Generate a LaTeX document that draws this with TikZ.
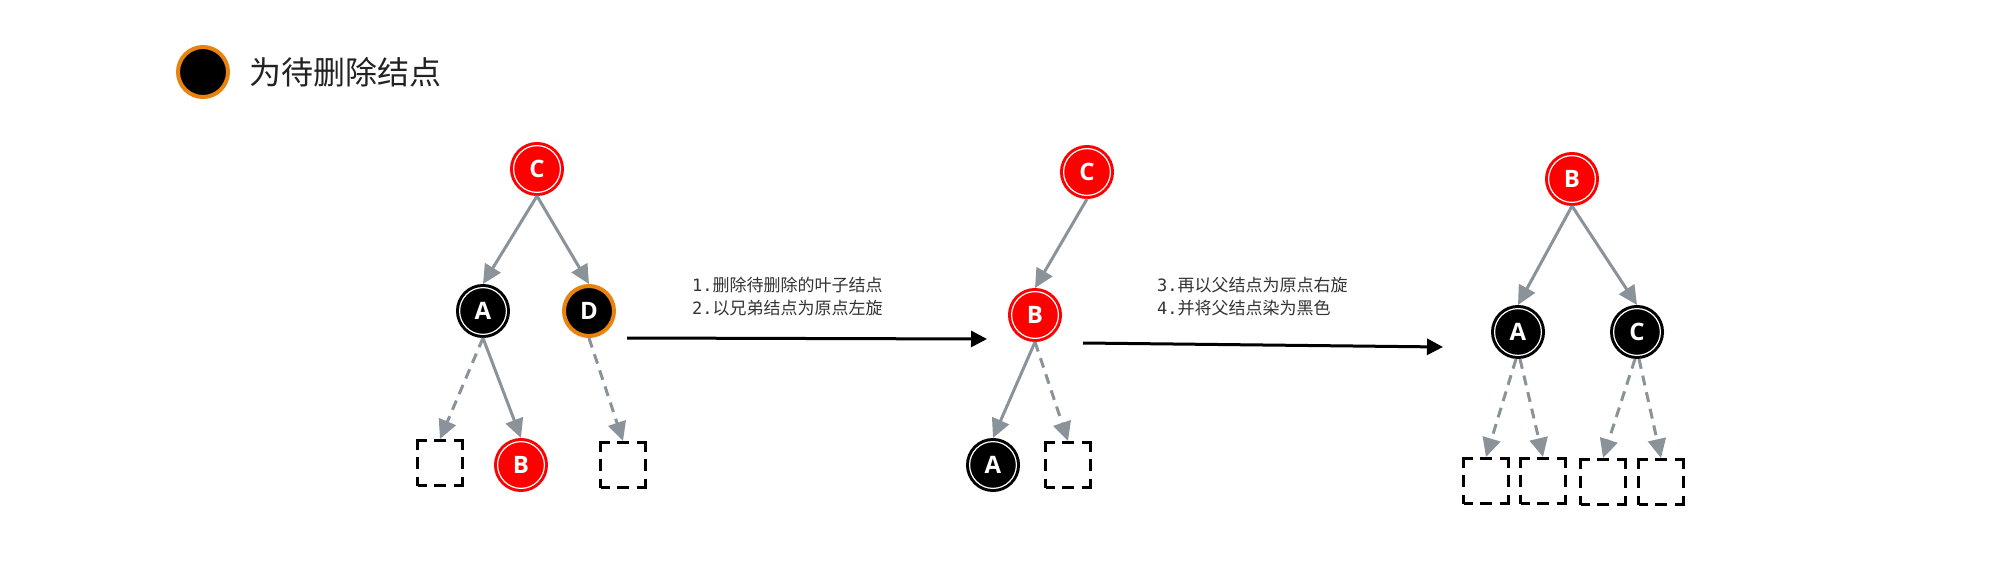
\documentclass[tikz,border=0pt]{standalone}
\usepackage{fontspec}
\setmainfont{Noto Sans}
\newfontfamily\cjk{Noto Sans CJK SC}
\newfontfamily\monof{DejaVu Sans Mono}
\newfontfamily\lettf{Open Sans}
\usetikzlibrary{arrows.meta}
\definecolor{rbred}{HTML}{FF0000}
\definecolor{delorange}{HTML}{E8830F}
\definecolor{edgegray}{HTML}{8A929A}
\definecolor{txtgray}{HTML}{333333}
\definecolor{legtext}{HTML}{222222}
\begin{document}
\begin{tikzpicture}[x=1pt,y=-1pt,
 rbnode/.style={circle, minimum size=46.8pt, inner sep=0pt, line width=3pt, double distance=1.2pt, outer sep=3.6pt, text=white, font=\lettf\bfseries\fontsize{24}{24}\selectfont},
 rednode/.style={rbnode, fill=rbred, draw=rbred, double=white},
 blacknode/.style={rbnode, fill=black, draw=black, double=white},
 delnode/.style={circle, minimum size=50pt, inner sep=0pt, line width=4pt, draw=delorange, fill=black, outer sep=2pt, text=white, font=\lettf\bfseries\fontsize{24}{24}\selectfont},
 nilbox/.style={draw=black, line width=3pt, minimum size=45pt, inner sep=0pt, dash pattern=on 18pt off 7.5pt on 12pt off 7.5pt, dash phase=9pt, outer sep=1.5pt},
 treeedge/.style={draw=edgegray, line width=3pt, -{Triangle[length=19pt,width=18pt]}},
 niledge/.style={treeedge, dash pattern=on 10pt off 7pt},
 steparrow/.style={draw=black, line width=3pt, -{Triangle[length=16pt,width=16pt]}},
 steptext/.style={anchor=west, align=left, text=txtgray, inner sep=0pt, font=\cjk\fontsize{17}{23}\selectfont}
]
\useasboundingbox (0,0) rectangle (1989,575);

% legend
\node[delnode] (leg) at (203,72) {};
\node[anchor=west, text=legtext, font=\cjk\fontsize{32}{32}\selectfont] (legt) at (246,72) {为待删除结点};

% tree 1
\node[rednode] (t1c) at (537,169) {C};
\node[blacknode] (t1a) at (483,311) {A};
\node[delnode] (t1d) at (589,311) {D};
\node[nilbox] (t1n1) at (440,463) {};
\node[rednode] (t1b) at (521,465) {B};
\node[nilbox] (t1n2) at (623,465) {};
\draw[treeedge] (t1c.south) -- (t1a.north);
\draw[treeedge] (t1c.south) -- (t1d.north);
\draw[niledge] (t1a.south) -- (t1n1.north);
\draw[treeedge] (t1a.south) -- (t1b.north);
\draw[niledge] (t1d.south) -- (t1n2.north);

% step arrow 1
\coordinate (s1a) at (627,338);
\coordinate (s1b) at (987,339);
\draw[steparrow] (s1a) -- (s1b);
\node[steptext] (st1) at (692,297) {{\monof 1.}删除待删除的叶子结点\\{\monof 2.}以兄弟结点为原点左旋};

% tree 2
\node[rednode] (t2c) at (1087,172) {C};
\node[rednode] (t2b) at (1035,315) {B};
\node[blacknode] (t2a) at (993,465) {A};
\node[nilbox] (t2n1) at (1068,465) {};
\draw[treeedge] (t2c.south) -- (t2b.north);
\draw[treeedge] (t2b.south) -- (t2a.north);
\draw[niledge] (t2b.south) -- (t2n1.north);

% step arrow 2
\coordinate (s2a) at (1083,343);
\coordinate (s2b) at (1443,347);
\draw[steparrow] (s2a) -- (s2b);
\node[steptext] (st2) at (1157,297) {{\monof 3.}再以父结点为原点右旋\\{\monof 4.}并将父结点染为黑色};

% tree 3
\node[rednode] (t3b) at (1572,179) {B};
\node[blacknode] (t3a) at (1518,332) {A};
\node[blacknode] (t3c) at (1637,332) {C};
\node[nilbox] (t3n1) at (1486,481) {};
\node[nilbox] (t3n2) at (1543,481) {};
\node[nilbox] (t3n3) at (1603,482) {};
\node[nilbox] (t3n4) at (1661,482) {};
\draw[treeedge] (t3b.south) -- (t3a.north);
\draw[treeedge] (t3b.south) -- (t3c.north);
\draw[niledge] ([xshift=-2pt]t3a.south) -- (t3n1.north);
\draw[niledge] ([xshift=2pt]t3a.south) -- (t3n2.north);
\draw[niledge] ([xshift=-2pt]t3c.south) -- (t3n3.north);
\draw[niledge] ([xshift=2pt]t3c.south) -- (t3n4.north);
\end{tikzpicture}
\end{document}
